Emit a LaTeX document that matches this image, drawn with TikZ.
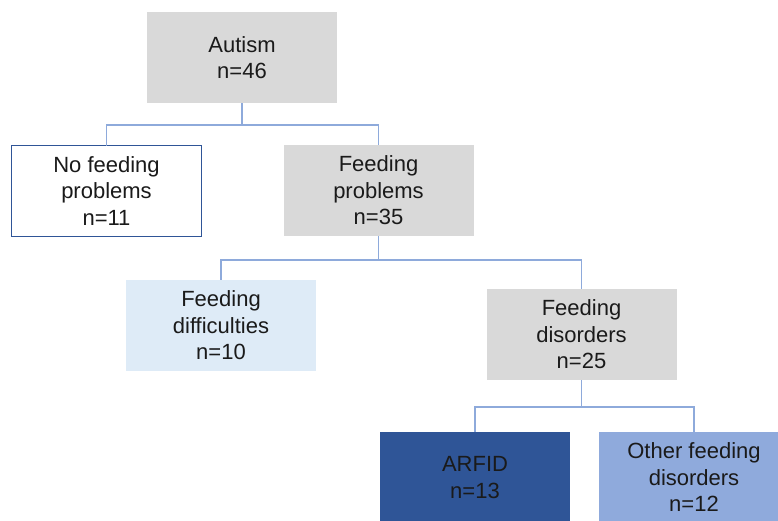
\documentclass[tikz,border=0pt]{standalone}
\usepackage{fontspec}
\setmainfont{Liberation Sans}
\definecolor{boxgray}{HTML}{D9D9D9}
\definecolor{lightblue}{HTML}{DEEBF7}
\definecolor{darkblue}{HTML}{2F5597}
\definecolor{midblue}{HTML}{8FAADC}
\definecolor{connblue}{HTML}{8EAADB}
\definecolor{txt}{HTML}{1A1A1A}
\begin{document}
\begin{tikzpicture}[x=1pt,y=-1pt,
  box/.style={minimum width=190pt,minimum height=91pt,inner sep=0pt,outer sep=0pt,
    align=center,text=txt,font=\fontsize{22pt}{26.5pt}\selectfont},
  graybox/.style={box,fill=boxgray},
  conn/.style={draw=connblue,line width=1.2pt}]
\useasboundingbox (0,0) rectangle (778,520);
\clip (0,0) rectangle (778,520);
\fill[white] (0,0) rectangle (778,520);
\node[graybox] (aut) at (242,57.5) {Autism\\n=46};
\node[box,fill=white,draw=darkblue,line width=0.9pt] (nf) at (106.5,191) {No feeding\\problems\\n=11};
\node[graybox] (fp) at (378.5,190.5) {Feeding\\problems\\n=35};
\node[box,fill=lightblue] (fd) at (221,325.5) {Feeding\\difficulties\\n=10};
\node[graybox] (fdis) at (581.5,334.5) {Feeding\\disorders\\n=25};
\node[box,fill=darkblue] (arfid) at (475,477.5) {ARFID\\n=13};
\node[box,fill=midblue] (other) at (694,477.5) {Other feeding\\disorders\\n=12};
\coordinate (j1) at (aut.south |- 0,125);
\coordinate (j2) at (fp.south |- 0,260);
\coordinate (j3) at (fdis.south |- 0,407);
\draw[conn] (aut.south) -- (j1);
\draw[conn] (j1) -| (nf.north);
\draw[conn] (j1) -| (fp.north);
\draw[conn] (fp.south) -- (j2);
\draw[conn] (j2) -| (fd.north);
\draw[conn] (j2) -| (fdis.north);
\draw[conn] (fdis.south) -- (j3);
\draw[conn] (j3) -| (arfid.north);
\draw[conn] (j3) -| (other.north);
\end{tikzpicture}
\end{document}
